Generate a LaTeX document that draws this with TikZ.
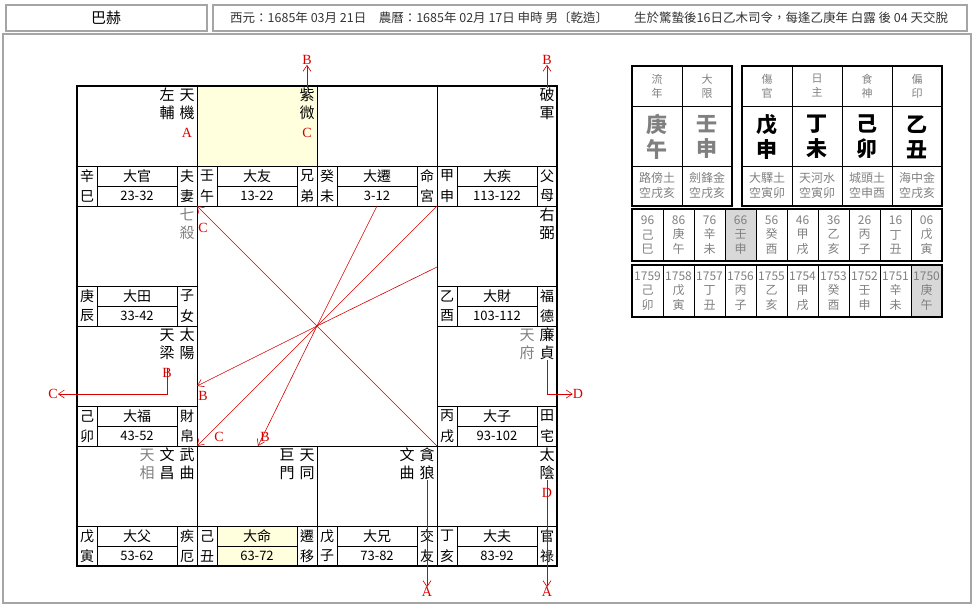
\documentclass[tikz,border=0pt]{standalone}
\usepackage{fontspec}
\setmainfont{Noto Sans CJK TC}
\newfontfamily\letterfont{Liberation Serif}
\usetikzlibrary{arrows.meta}
\definecolor{ink}{RGB}{0,0,0}
\definecolor{muted}{RGB}{128,128,128}
\definecolor{frame}{RGB}{165,165,165}
\definecolor{mark}{RGB}{215,0,0}
\definecolor{ming}{RGB}{255,255,222}
\definecolor{tint}{RGB}{216,216,216}
\tikzset{
    grid/.style={draw=ink, line width=0.8pt},
    border/.style={draw=ink, line width=2pt},
    headbox/.style={draw=frame, line width=1.2pt},
    star/.style={
        font=\fontsize{15}{18}\selectfont,
        align=center,
        inner sep=0pt,
        text=ink
    },
    faint/.style={star, text=muted},
    cellword/.style={font=\fontsize{14}{14}\selectfont, inner sep=0pt, text=ink},
    ageword/.style={font=\fontsize{13}{13}\selectfont, inner sep=0pt, text=ink},
    letter/.style={font=\letterfont\fontsize{14}{14}\selectfont, text=mark, inner sep=0pt},
    trace/.style={draw=mark, line width=0.6pt},
    pointer/.style={trace, -{Straight Barb[length=6pt, width=8pt]}},
    role/.style={font=\fontsize{11}{14}\selectfont, align=center, inner sep=0pt, text=muted},
    pillar/.style={font=\bfseries\fontsize{21}{25}\selectfont, align=center, inner sep=0pt},
    nayin/.style={font=\fontsize{12}{15}\selectfont, align=center, inner sep=0pt, text=muted},
    tally/.style={font=\fontsize{12}{14.5}\selectfont, align=center, inner sep=0pt, text=muted},
    headword/.style={font=\fontsize{12.5}{12.5}\selectfont, anchor=west, text=ink!80, inner sep=0pt}
}
\begin{document}
\begin{tikzpicture}[x=1pt, y=-1pt]
\useasboundingbox (0,0) rectangle (976,606);

% --- Header ---
\draw[headbox] (6,5) rectangle (207,31);
\draw[headbox] (213,5) rectangle (967,31);
\node[font=\fontsize{15}{15}\selectfont] (name) at (106,18) {巴赫};
\node[headword] (birth) at (230,18)
    {西元：1685年 03月 21日\quad 農曆：1685年 02月 17日 申時 男〔乾造〕};
\node[headword] (season) at (634,18)
    {生於驚蟄後16日乙木司令，每逢乙庚年 白露 後 04 天交脫};
\draw[frame, line width=1.2pt] (3,34) rectangle (971,603);

% --- Palaces ---
\fill[ming] (197,86) rectangle (317,166);
\fill[ming] (217,526) rectangle (297,566);
\foreach \pid/\px/\py/\gan/\zhi/\daxian/\age/\gongA/\gongB in {
    si/77/86/辛/巳/大官/23-32/夫/妻,
    wu/197/86/壬/午/大友/13-22/兄/弟,
    wei/317/86/癸/未/大遷/3-12/命/宮,
    shen/437/86/甲/申/大疾/113-122/父/母,
    chen/77/206/庚/辰/大田/33-42/子/女,
    you/437/206/乙/酉/大財/103-112/福/德,
    mao/77/326/己/卯/大福/43-52/財/帛,
    xu/437/326/丙/戌/大子/93-102/田/宅,
    yin/77/446/戊/寅/大父/53-62/疾/厄,
    chou/197/446/己/丑/大命/63-72/遷/移,
    zi/317/446/戊/子/大兄/73-82/交/友,
    hai/437/446/丁/亥/大夫/83-92/官/祿}
{
    \draw[grid] (\px,\py) rectangle ++(120,120);
    \draw[grid] (\px,\py+80) -- ++(120,0)
        (\px+20,\py+80) -- ++(0,40)
        (\px+100,\py+80) -- ++(0,40)
        (\px+20,\py+100) -- ++(80,0);
    \node[cellword] (\pid-gan) at (\px+10,\py+90) {\gan};
    \node[cellword] (\pid-zhi) at (\px+10,\py+110) {\zhi};
    \node[cellword] (\pid-dx) at (\px+60,\py+90) {\daxian};
    \node[ageword] (\pid-age) at (\px+60,\py+110) {\age};
    \node[cellword] (\pid-ga) at (\px+110,\py+90) {\gongA};
    \node[cellword] (\pid-gb) at (\px+110,\py+110) {\gongB};
}
\draw[border] (77,86) rectangle (557,566);

% --- Stars ---
\node[star] (tianji) at (187,104) {天\\機};
\node[star] (zuofu) at (167,104) {左\\輔};
\node[star] (ziwei) at (307,104) {紫\\微};
\node[star] (pojun) at (547,104) {破\\軍};
\node[faint] (qisha) at (187,224) {七\\殺};
\node[star] (youbi) at (547,224) {右\\弼};
\node[star] (taiyang) at (187,344) {太\\陽};
\node[star] (tianliang) at (167,344) {天\\梁};
\node[star] (lianzhen) at (547,344) {廉\\貞};
\node[faint] (tianfu) at (527,344) {天\\府};
\node[star] (wuqu) at (187,464) {武\\曲};
\node[star] (wenchang) at (167,464) {文\\昌};
\node[faint] (tianxiang) at (147,464) {天\\相};
\node[star] (tiantong) at (307,464) {天\\同};
\node[star] (jumen) at (287,464) {巨\\門};
\node[star] (tanlang) at (427,464) {貪\\狼};
\node[star] (wenqu) at (407,464) {文\\曲};
\node[star] (taiyin) at (547,464) {太\\陰};

% --- Transformation marks ---
\node[letter] (jiA) at (187,133) {A};
\node[letter] (ziC) at (307,133) {C};
\node[letter] (liangB) at (167,373) {B};
\node[letter] (yinD) at (547,493) {D};
\node[letter] (topB1) at (307,60) {B};
\node[letter] (topB2) at (547,60) {B};
\node[letter] (sideC) at (53,394) {C};
\node[letter] (sideD) at (578,394) {D};
\node[letter] (lowA1) at (427,592) {A};
\node[letter] (lowA2) at (547,592) {A};

\draw[pointer] (ziwei.north) -- (topB1.south);
\draw[pointer] (pojun.north) -- (topB2.south);
\draw[pointer] (liangB.north) |- (sideC.east);
\draw[pointer] (lianzhen.south) |- (sideD.west);
\draw[pointer] (tanlang.south) -- (lowA1.north);
\draw[pointer] (taiyin.south) -- (lowA2.north);

% --- Centre rays ---
\coordinate (hub) at (317,326);
\coordinate (rayTL) at (197,206);
\coordinate (rayBR) at (437,446);
\coordinate (rayT1) at (377,206);
\coordinate (rayT2) at (437,206);
\coordinate (rayR) at (437,267);
\coordinate (rayL) at (197,386);
\coordinate (rayBL) at (197,446);
\coordinate (rayB) at (258,446);
\draw[pointer] (hub) -- (rayTL);
\draw[trace] (hub) -- (rayBR);
\draw[trace] (hub) -- (rayT1);
\draw[trace] (hub) -- (rayT2);
\draw[trace] (hub) -- (rayR);
\draw[pointer] (hub) -- (rayL);
\draw[pointer] (hub) -- (rayBL);
\draw[pointer] (hub) -- (rayB);
\node[letter] (hubC1) at (203,228) {C};
\node[letter] (hubB1) at (203,396) {B};
\node[letter] (hubC2) at (219,437) {C};
\node[letter] (hubB2) at (265,437) {B};

% --- Pillars ---
\draw[border] (632,66) rectangle (732,206);
\draw[grid] (682,66) -- (682,206) (632,106) -- (732,106) (632,166) -- (732,166);
\draw[border] (742,66) rectangle (942,206);
\draw[grid] (792,66) -- (792,206) (842,66) -- (842,206) (892,66) -- (892,206)
    (742,106) -- (942,106) (742,166) -- (942,166);
\foreach \cid/\cx/\title/\gz/\tone/\nyn in {
    liunian/657/流\\年/庚\\午/muted/路傍土\\空戌亥,
    daxian/707/大\\限/壬\\申/muted/劍鋒金\\空戌亥,
    year/767/傷\\官/戊\\申/ink/大驛土\\空寅卯,
    month/817/日\\主/丁\\未/ink/天河水\\空寅卯,
    day/867/食\\神/己\\卯/ink/城頭土\\空申酉,
    hour/917/偏\\印/乙\\丑/ink/海中金\\空戌亥}
{
    \node[role] (\cid-role) at (\cx,86) {\title};
    \node[pillar, text=\tone] (\cid-gz) at (\cx,137) {\gz};
    \node[nayin] (\cid-ny) at (\cx,185) {\nyn};
}

% --- Decades and years ---
\fill[tint] (725,209) rectangle (756,261);
\fill[tint] (911,265) rectangle (942,317);
\foreach \i in {1,...,9} {
    \draw[grid] (632+31*\i,209) -- ++(0,52);
    \draw[grid] (632+31*\i,265) -- ++(0,52);
}
\draw[border] (632,209) rectangle (942,261);
\draw[border] (632,265) rectangle (942,317);
\foreach \yr/\g/\z [count=\i from 0] in {96/己/巳, 86/庚/午, 76/辛/未, 66/壬/申,
    56/癸/酉, 46/甲/戌, 36/乙/亥, 26/丙/子, 16/丁/丑, 06/戊/寅}
    \node[tally] (dec-\i) at (647.5+31*\i,235) {\yr\\\g\\\z};
\foreach \yr/\g/\z [count=\i from 0] in {1759/己/卯, 1758/戊/寅, 1757/丁/丑, 1756/丙/子,
    1755/乙/亥, 1754/甲/戌, 1753/癸/酉, 1752/壬/申, 1751/辛/未, 1750/庚/午}
    \node[tally] (yr-\i) at (647.5+31*\i,291) {\yr\\\g\\\z};

\end{tikzpicture}
\end{document}
